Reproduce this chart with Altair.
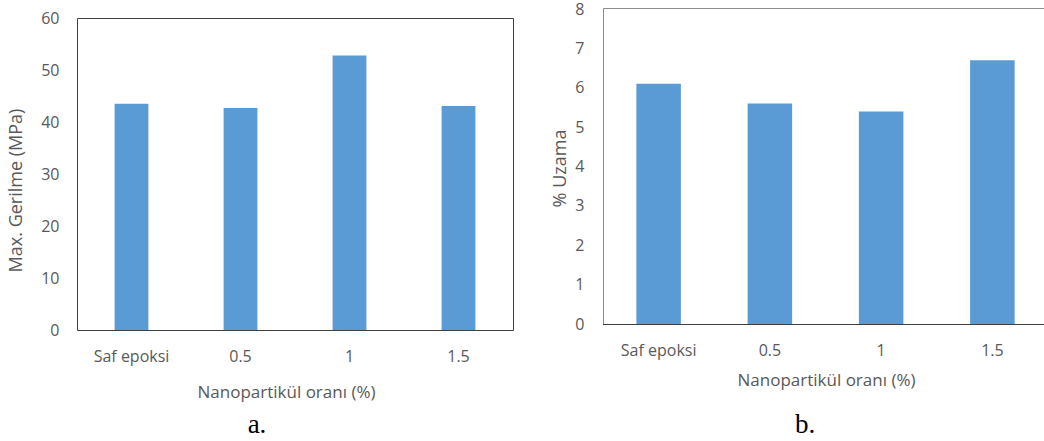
import altair as alt
import pandas as pd

# ---- data ----
categories = ["Saf epoksi", "0.5", "1", "1.5"]
max_stress = [43.5, 42.7, 52.8, 43.1]      # panel a: Max. Gerilme (MPa)
elongation = [6.1, 5.6, 5.4, 6.7]          # panel b: % Uzama
stress_ticks = [0, 10, 20, 30, 40, 50, 60]
elong_ticks = [0, 1, 2, 3, 4, 5, 6, 7, 8]
panel_labels = ["a.", "b."]
x_title = "Nanopartikül oranı (%)"
y_title_a = "Max. Gerilme (MPa)"
y_title_b = "% Uzama"

df_a = pd.DataFrame({"cat": categories, "val": max_stress})
df_b = pd.DataFrame({"cat": categories, "val": elongation})
one = pd.DataFrame({"k": [0]})

FONT = "Open Sans"
GRAY = "#595959"
BLUE = "#5B9BD5"
FS = 16
TFS = 17


def axis(**kw):
    base = dict(
        ticks=False, tickSize=0, domain=False, grid=False,
        labelFont=FONT, labelFontSize=FS, labelColor=GRAY,
        titleFont=FONT, titleFontSize=TFS, titleColor=GRAY,
        titleFontWeight="normal", titleAlign="center",
    )
    base.update(kw)
    return alt.Axis(**base)


bars_a = alt.Chart(df_a).mark_bar(color=BLUE).encode(
    x=alt.X("cat:N", sort=categories,
            scale=alt.Scale(range=[77, 513], paddingInner=0.69, paddingOuter=0.345),
            axis=axis(orient="bottom", offset=-111, title=x_title, labelAngle=0,
                      labelPadding=31, labelBaseline="alphabetic",
                      titleX=286, titleY=67, titleBaseline="alphabetic")),
    y=alt.Y("val:Q",
            scale=alt.Scale(domain=[0, 60], range=[330, 18], nice=False),
            axis=axis(orient="left", offset=-77, values=stress_ticks, title=y_title_a,
                      labelPadding=18, titleX=-61, titleY=190, titleAngle=270,
                      titleFontSize=18, titleBaseline="middle")),
)

bars_b = alt.Chart(df_b).mark_bar(color=BLUE).encode(
    x=alt.X("cat:N", sort=categories,
            scale=alt.Scale(range=[603, 1048], paddingInner=0.6, paddingOuter=0.3),
            axis=axis(orient="bottom", offset=-117, title=x_title, labelAngle=0,
                      labelPadding=31, labelBaseline="alphabetic",
                      titleX=826, titleY=61, titleBaseline="alphabetic")),
    y=alt.Y("val:Q",
            scale=alt.Scale(domain=[0, 8], range=[324, 9], nice=False),
            axis=axis(orient="left", offset=-603, values=elong_ticks, title=y_title_b,
                      labelPadding=19, titleX=-43, titleY=168, titleAngle=270,
                      titleFontSize=18, titleBaseline="middle")),
)

frame_a = alt.Chart(one).mark_rect(filled=False, stroke="#404040", strokeWidth=1).encode(
    x=alt.value(77.5), x2=alt.value(513.5), y=alt.value(18.5), y2=alt.value(330.5)
)
frame_b = alt.Chart(one).mark_rect(filled=False, stroke="#8c8c8c", strokeWidth=1).encode(
    x=alt.value(603.5), x2=alt.value(1060), y=alt.value(8.5), y2=alt.value(324.5)
)
base_b = alt.Chart(one).mark_rule(stroke="#404040", strokeWidth=1).encode(
    x=alt.value(603), x2=alt.value(1044), y=alt.value(324.5)
)

cap_a = alt.Chart(pd.DataFrame({"t": [panel_labels[0]]})).mark_text(
    font="Liberation Serif", fontSize=27, color="black", align="center", baseline="alphabetic"
).encode(x=alt.value(257), y=alt.value(433), text="t:N")
cap_b = alt.Chart(pd.DataFrame({"t": [panel_labels[1]]})).mark_text(
    font="Liberation Serif", fontSize=27, color="black", align="center", baseline="alphabetic"
).encode(x=alt.value(805), y=alt.value(433), text="t:N")

chart = alt.layer(bars_a, bars_b, frame_a, frame_b, base_b, cap_a, cap_b).resolve_scale(
    x="independent", y="independent"
).properties(
    width=1044, height=441, padding=0,
    autosize=alt.AutoSizeParams(type="none"),
    background="white",
).configure_view(stroke="transparent")

chart.save("out.html", embed_options={"renderer": "svg", "actions": False})
